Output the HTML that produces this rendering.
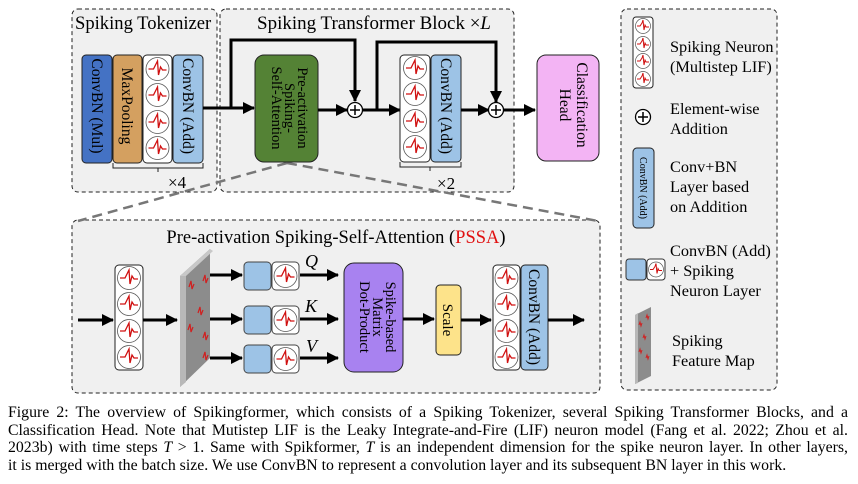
<!DOCTYPE html>
<html><head><meta charset="utf-8"><style>
html,body{margin:0;padding:0;background:#fff;}
body{position:relative;width:858px;height:484px;overflow:hidden;}
svg{display:block;position:absolute;left:0;top:0;font-family:"Liberation Serif","Times New Roman",Times,serif;}
#cap{position:absolute;left:8px;top:404px;width:840px;font-family:"Liberation Serif","Times New Roman",serif;font-size:15.8px;line-height:17.6px;color:#000;}
#cap div{text-align:justify;text-align-last:justify;white-space:nowrap;}
#cap div.last{text-align-last:left;}
</style></head><body>
<svg width="858" height="484" viewBox="0 0 858 484" xmlns="http://www.w3.org/2000/svg" font-family="'Liberation Serif', 'Times New Roman', Times, serif">
<defs>
<marker id="ahb" markerWidth="12" markerHeight="12" refX="11" refY="6" orient="auto" markerUnits="userSpaceOnUse"><path d="M0,0 L12,6 L0,12 z" fill="#000"/></marker>
<g id="neu">
<circle cx="0" cy="0" r="11.5" fill="#fff" stroke="#555" stroke-width="0.8"/>
<path d="M-9,0 L-4,0 L-2,-4 L0,-8 L1,6 L3,-2 L5,1 L9,1" fill="none" stroke="#d01010" stroke-width="1.3"/>
</g>
<g id="neus">
<circle cx="0" cy="0" r="7.5" fill="#fff" stroke="#555" stroke-width="0.7"/>
<path d="M-6,0 L-3,0 L-1,-3 L0,-6 L1,4 L2,-1 L3,1 L6,1" fill="none" stroke="#d01010" stroke-width="1"/>
</g>
</defs>
<rect width="858" height="484" fill="#fff"/>

<rect x="72" y="9" width="145" height="183" rx="6" fill="#f0f0f0" stroke="#222" stroke-dasharray="4,3"/>
<text x="75" y="29" font-size="18.6">Spiking Tokenizer</text>
<rect x="220" y="9" width="294" height="183" rx="6" fill="#f0f0f0" stroke="#222" stroke-dasharray="4,3"/>
<text x="257" y="29" font-size="19">Spiking Transformer Block ×<tspan font-style="italic">L</tspan></text>
<rect x="621" y="9" width="156" height="381" rx="6" fill="#f0f0f0" stroke="#222" stroke-dasharray="4,3"/>
<rect x="72" y="220" width="528" height="173" rx="6" fill="#f0f0f0" stroke="#222" stroke-dasharray="4,3"/>
<line x1="287" y1="163" x2="78" y2="221" stroke="#777" stroke-width="2.5" stroke-dasharray="10,6"/>
<line x1="287" y1="163" x2="598" y2="221" stroke="#777" stroke-width="2.5" stroke-dasharray="10,6"/>

<rect x="82" y="55" width="30" height="108" rx="4" fill="#4472c4" stroke="#222"/>
<text transform="translate(92,106) rotate(90)" text-anchor="middle" font-size="15.5">ConvBN (Mul)</text>
<rect x="113" y="55" width="29" height="108" rx="4" fill="#d4a060" stroke="#222"/>
<text transform="translate(122,106) rotate(90)" text-anchor="middle" font-size="15.5">MaxPooling</text>
<rect x="143" y="55" width="29" height="108" rx="4" fill="#fff" stroke="#222"/>
<use href="#neu" x="157.5" y="69"/><use href="#neu" x="157.5" y="95"/><use href="#neu" x="157.5" y="122"/><use href="#neu" x="157.5" y="148"/>
<rect x="173" y="55" width="30" height="108" rx="4" fill="#9dc3e6" stroke="#222"/>
<text transform="translate(183,106) rotate(90)" text-anchor="middle" font-size="15.5">ConvBN (Add)</text>
<path d="M113,163 v5 h90 v-5 M158,168 v4" fill="none" stroke="#222"/>
<text x="168" y="188" font-size="17">×4</text>

<line x1="203" y1="108" x2="254" y2="108" stroke="#000" stroke-width="3" marker-end="url(#ahb)"/>
<polyline points="231,108 231,40 355,40 355,101" fill="none" stroke="#000" stroke-width="3" marker-end="url(#ahb)"/>
<rect x="255" y="55" width="63" height="107" rx="9" fill="#548235" stroke="#222"/>
<text transform="translate(285,108) rotate(90)" text-anchor="middle" font-size="14.5"><tspan x="0" y="-13">Pre-activation</tspan><tspan x="0" y="0">Spiking-</tspan><tspan x="0" y="13">Self-Attention</tspan></text>
<line x1="318" y1="110" x2="347" y2="110" stroke="#000" stroke-width="3" marker-end="url(#ahb)"/>
<circle cx="355" cy="110" r="7.5" fill="#fff" stroke="#000" stroke-width="1.3"/>
<path d="M350,110 h10 M355,105 v10" stroke="#000" stroke-width="1.5"/>
<line x1="362.5" y1="110" x2="400" y2="110" stroke="#000" stroke-width="3" marker-end="url(#ahb)"/>
<polyline points="377,110 377,42 496,42 496,102" fill="none" stroke="#000" stroke-width="3" marker-end="url(#ahb)"/>
<rect x="400" y="55" width="30" height="107" rx="4" fill="#fff" stroke="#222"/>
<use href="#neu" x="415" y="68"/><use href="#neu" x="415" y="94"/><use href="#neu" x="415" y="121"/><use href="#neu" x="415" y="147"/>
<rect x="431" y="55" width="30" height="107" rx="4" fill="#9dc3e6" stroke="#222"/>
<text transform="translate(441,106) rotate(90)" text-anchor="middle" font-size="15.5">ConvBN (Add)</text>
<line x1="461" y1="110" x2="489" y2="110" stroke="#000" stroke-width="3" marker-end="url(#ahb)"/>
<circle cx="496" cy="110" r="7.5" fill="#fff" stroke="#000" stroke-width="1.3"/>
<path d="M491,110 h10 M496,105 v10" stroke="#000" stroke-width="1.5"/>
<line x1="503.5" y1="110" x2="535" y2="110" stroke="#000" stroke-width="3" marker-end="url(#ahb)"/>
<path d="M400,162 v5 h61 v-5 M430,167 v4" fill="none" stroke="#222"/>
<text x="437" y="189" font-size="17">×2</text>
<rect x="537" y="55" width="62" height="106" rx="9" fill="#f3b4f4" stroke="#222"/>
<text transform="translate(572,105) rotate(90)" text-anchor="middle" font-size="15.5"><tspan x="0" y="-5">Classification</tspan><tspan x="0" y="12">Head</tspan></text>

<text x="336" y="243" text-anchor="middle" font-size="18.5">Pre-activation Spiking-Self-Attention (<tspan fill="#e01010">PSSA</tspan>)</text>
<line x1="78" y1="320" x2="113" y2="320" stroke="#000" stroke-width="3" marker-end="url(#ahb)"/>
<rect x="115" y="265" width="28" height="105" rx="4" fill="#fff" stroke="#222"/>
<use href="#neu" x="129" y="278"/><use href="#neu" x="129" y="304"/><use href="#neu" x="129" y="331"/><use href="#neu" x="129" y="357"/>
<line x1="143" y1="320" x2="177" y2="320" stroke="#000" stroke-width="3" marker-end="url(#ahb)"/>
<polygon points="180,276 210,249 210,358 180,387" fill="#8c8c8c"/>
<polygon points="180,276 186,271 186,382 180,387" fill="#b8b8b8"/>
<polygon points="180,276 210,249 213,251 186,276" fill="#c8c8c8"/>
<g stroke="#d02020" stroke-width="1.2" fill="none">
<path d="M189,287 l2,-6 l1,8 l2,-5"/><path d="M203,281 l2,-6 l1,8 l2,-5"/><path d="M198,313 l2,-6 l1,8 l2,-5"/><path d="M188,330 l2,-6 l1,8 l2,-5"/><path d="M203,338 l2,-6 l1,8 l2,-5"/><path d="M203,358 l2,-6 l1,8 l2,-5"/>
</g>
<g stroke="#000" stroke-width="3">
<line x1="210" y1="275" x2="242" y2="275" marker-end="url(#ahb)"/>
<line x1="210" y1="319" x2="242" y2="319" marker-end="url(#ahb)"/>
<line x1="210" y1="358" x2="242" y2="358" marker-end="url(#ahb)"/>
<line x1="300" y1="275" x2="338" y2="275" marker-end="url(#ahb)"/>
<line x1="300" y1="319" x2="338" y2="319" marker-end="url(#ahb)"/>
<line x1="300" y1="358" x2="338" y2="358" marker-end="url(#ahb)"/>
</g>
<rect x="244" y="262" width="27" height="28" rx="4" fill="#9dc3e6" stroke="#444"/>
<rect x="272" y="262" width="27" height="28" rx="4" fill="#fff" stroke="#444"/><use href="#neu" x="285.5" y="276"/>
<rect x="244" y="306" width="27" height="28" rx="4" fill="#9dc3e6" stroke="#444"/>
<rect x="272" y="306" width="27" height="28" rx="4" fill="#fff" stroke="#444"/><use href="#neu" x="285.5" y="320"/>
<rect x="244" y="345" width="27" height="28" rx="4" fill="#9dc3e6" stroke="#444"/>
<rect x="272" y="345" width="27" height="28" rx="4" fill="#fff" stroke="#444"/><use href="#neu" x="285.5" y="359"/>
<text x="305" y="267" font-size="18" font-style="italic">Q</text>
<text x="305" y="312" font-size="18" font-style="italic">K</text>
<text x="306" y="352" font-size="18" font-style="italic">V</text>
<rect x="344" y="263" width="59" height="109" rx="10" fill="#a882f0" stroke="#222"/>
<text transform="translate(373,317) rotate(90)" text-anchor="middle" font-size="14.5"><tspan x="0" y="-13">Spike-based</tspan><tspan x="0" y="0">Matrix</tspan><tspan x="0" y="13">Dot-Product</tspan></text>
<line x1="403" y1="319" x2="434" y2="319" stroke="#000" stroke-width="3" marker-end="url(#ahb)"/>
<rect x="436" y="285" width="25" height="70" rx="4" fill="#fde38a" stroke="#222"/>
<text transform="translate(443,320) rotate(90)" text-anchor="middle" font-size="15">Scale</text>
<line x1="461" y1="320" x2="491" y2="320" stroke="#000" stroke-width="3" marker-end="url(#ahb)"/>
<rect x="493" y="265" width="27" height="105" rx="4" fill="#fff" stroke="#222"/>
<use href="#neu" x="506.5" y="278"/><use href="#neu" x="506.5" y="304"/><use href="#neu" x="506.5" y="331"/><use href="#neu" x="506.5" y="357"/>
<rect x="521" y="265" width="27" height="105" rx="4" fill="#9dc3e6" stroke="#222"/>
<text transform="translate(529,317) rotate(90)" text-anchor="middle" font-size="15.5">ConvBN (Add)</text>
<line x1="548" y1="320" x2="584" y2="320" stroke="#000" stroke-width="3" marker-end="url(#ahb)"/>

<rect x="633" y="17" width="20" height="71" rx="3" fill="#fff" stroke="#222"/>
<use href="#neus" x="643" y="26"/><use href="#neus" x="643" y="44"/><use href="#neus" x="643" y="61"/><use href="#neus" x="643" y="79"/>
<g font-size="16.3">
<text x="670" y="52">Spiking Neuron</text>
<text x="670" y="72">(Multistep LIF)</text>
<text x="670" y="114">Element-wise</text>
<text x="670" y="134">Addition</text>
<text x="670" y="172">Conv+BN</text>
<text x="670" y="192">Layer based</text>
<text x="670" y="212">on Addition</text>
<text x="670" y="256">ConvBN (Add)</text>
<text x="670" y="276">+ Spiking</text>
<text x="670" y="296">Neuron Layer</text>
<text x="672" y="346">Spiking</text>
<text x="672" y="366">Feature Map</text>
</g>
<circle cx="643" cy="117" r="7.5" fill="#fff" stroke="#000" stroke-width="1.3"/>
<path d="M638,117 h10 M643,112 v10" stroke="#000" stroke-width="1.5"/>
<rect x="633" y="148" width="21" height="80" rx="4" fill="#9dc3e6" stroke="#222"/>
<text transform="translate(640,188) rotate(90)" text-anchor="middle" font-size="10">ConvBN (Add)</text>
<rect x="626" y="259" width="20" height="21" rx="3" fill="#9dc3e6" stroke="#333"/>
<rect x="647" y="259" width="18" height="21" rx="3" fill="#fff" stroke="#333"/><use href="#neus" x="656" y="269.5"/>
<polygon points="635,315 651,307 651,376 635,384" fill="#8c8c8c"/>
<polygon points="635,315 638,313 638,383 635,384" fill="#b8b8b8"/>
<g stroke="#d02020" stroke-width="1" fill="none"><path d="M639,325 l1,-3 l1,4 l1,-3"/><path d="M646,318 l1,-3 l1,4 l1,-3"/><path d="M643,338 l1,-3 l1,4 l1,-3"/><path d="M639,352 l1,-3 l1,4 l1,-3"/><path d="M646,358 l1,-3 l1,4 l1,-3"/></g>
</svg>
<div id="cap">
<div>Figure 2: The overview of Spikingformer, which consists of a Spiking Tokenizer, several Spiking Transformer Blocks, and a</div>
<div>Classification Head. Note that Mutistep LIF is the Leaky Integrate-and-Fire (LIF) neuron model (Fang et al. 2022; Zhou et al.</div>
<div>2023b) with time steps <i>T</i> &gt; 1. Same with Spikformer, <i>T</i> is an independent dimension for the spike neuron layer. In other layers,</div>
<div class="last">it is merged with the batch size. We use ConvBN to represent a convolution layer and its subsequent BN layer in this work.</div>
</div>
</body></html>
